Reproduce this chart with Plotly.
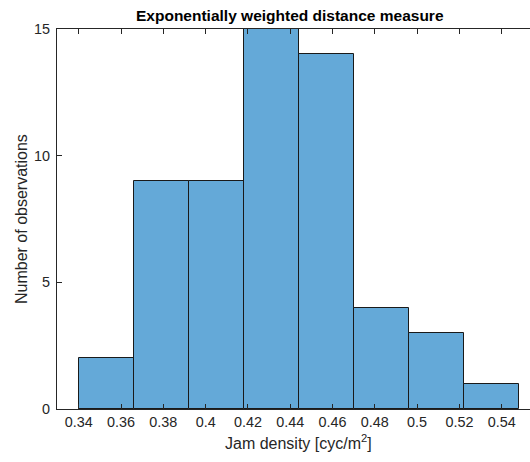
import plotly.graph_objects as go

# Data
bin_start = 0.34
bin_width = 0.026
counts = [2, 9, 9, 15, 14, 4, 3, 1]
x_tick_vals = [0.34, 0.36, 0.38, 0.40, 0.42, 0.44, 0.46, 0.48, 0.50, 0.52, 0.54]
x_tick_text = ["0.34", "0.36", "0.38", "0.4", "0.42", "0.44", "0.46", "0.48", "0.5", "0.52", "0.54"]
y_tick_vals = [0, 5, 10, 15]

centers = [bin_start + bin_width * (i + 0.5) for i in range(len(counts))]

FONT = "Liberation Sans, Arial, sans-serif"
TXT = "#262626"

W, H = 530, 462
ML, MR, MT, MB = 57, 0, 29, 53

fig = go.Figure()
fig.add_trace(go.Bar(
    x=centers, y=counts, width=[bin_width] * len(counts),
    marker=dict(color="rgb(100,169,216)", line=dict(color="#1a1a1a", width=1)),
    showlegend=False, hoverinfo="x+y",
))

fig.update_layout(
    width=W, height=H,
    margin=dict(l=ML, r=MR, t=MT, b=MB, pad=0),
    plot_bgcolor="white", paper_bgcolor="white",
    font=dict(family=FONT, color=TXT, size=14.4),
    bargap=0,
    xaxis=dict(
        range=[0.3297, 0.5534], tickvals=x_tick_vals, ticktext=x_tick_text,
        ticks="inside", ticklen=5, tickcolor=TXT, tickwidth=1,
        showline=True, linecolor=TXT, linewidth=1, mirror="ticks",
        showgrid=False, zeroline=False,
        tickfont=dict(size=14.4, color=TXT),
    ),
    yaxis=dict(
        range=[0, 15], tickvals=y_tick_vals,
        ticks="inside", ticklen=5, tickcolor=TXT, tickwidth=1,
        showline=True, linecolor=TXT, linewidth=1, mirror=False,
        showgrid=False, zeroline=False, ticklabelstandoff=3,
        tickfont=dict(size=14.4, color=TXT),
    ),
)

def px_ann(text, x, y, size, color=TXT, angle=0):
    pw = W - ML - MR
    ph = H - MT - MB
    fig.add_annotation(
        text=text, x=(x - ML) / pw, y=(H - MB - y) / ph,
        xref="paper", yref="paper", showarrow=False, textangle=angle,
        xanchor="center", yanchor="middle",
        font=dict(family=FONT, size=size, color=color),
    )

px_ann("<b>Exponentially weighted distance measure</b>", 290, 15, 15.5, "black")
px_ann("Jam density [cyc/m<sup>2</sup>]", 298, 442, 16)
px_ann("Number of observations", 21, 219, 16, angle=-90)

fig.write_html("out.html", config={"displayModeBar": False},
               post_script="document.body.style.margin='0';")
